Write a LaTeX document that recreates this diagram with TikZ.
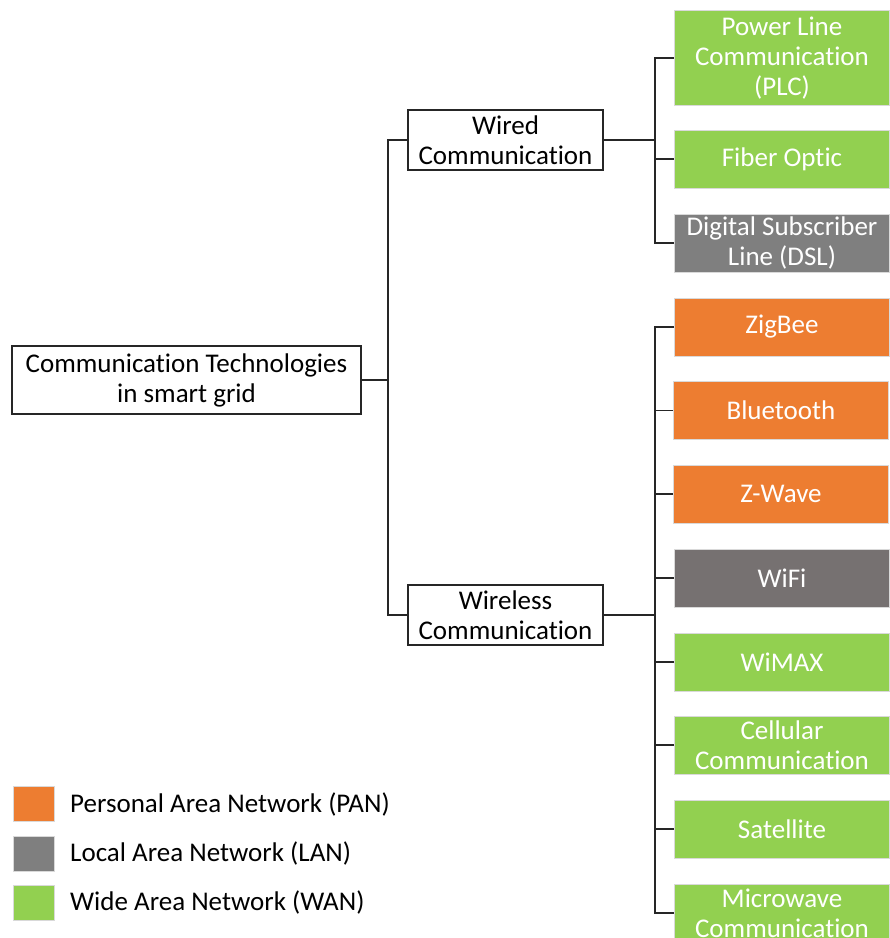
\documentclass[tikz,border=0pt]{standalone}
\usepackage{fontspec}
\setmainfont{Carlito}[Ligatures=NoCommon]
\definecolor{wan}{HTML}{92D050}
\definecolor{pan}{HTML}{ED7D31}
\definecolor{lan}{HTML}{7F7F7F}
\definecolor{wifi}{HTML}{767171}
\definecolor{linec}{HTML}{262626}
\tikzset{
  txt/.style={font=\fontsize{27}{30}\selectfont, align=center, inner sep=0pt},
  whitebox/.style={txt, draw=linec, line width=1.3pt, fill=white, text=black},
  leaf/.style={txt, draw=white!85!black, line width=0.8pt, text=white, minimum width=215pt, minimum height=58pt},
  conn/.style={draw=linec, line width=1.6pt},
  legsq/.style={draw=white!85!black, line width=0.8pt, minimum width=41pt, minimum height=35pt, inner sep=0pt},
  legtxt/.style={font=\fontsize{27}{30}\selectfont, anchor=west, inner sep=0pt, text=black}
}
\begin{document}
\begin{tikzpicture}[x=1pt,y=1pt]
\useasboundingbox (0,0) rectangle (890,-938);
\clip (0,0) rectangle (890,-938);
\fill[white] (0,0) rectangle (890,-938);
% main boxes
\node[whitebox, minimum width=349pt, minimum height=68pt] (root) at (186.5,-380) {Communication Technologies\\in smart grid};
\node[whitebox, minimum width=195pt, minimum height=60pt] (wired) at (505.5,-140) {Wired\\Communication};
\node[whitebox, minimum width=195pt, minimum height=60pt] (wireless) at (505.5,-615) {Wireless\\Communication};
% wired leaves
\node[leaf, fill=wan, minimum height=95pt] (plc) at (782,-58) {Power Line\\Communication\\(PLC)};
\node[leaf, fill=wan] (fiber) at (782,-159) {Fiber Optic};
\node[leaf, fill=lan] (dsl) at (782,-243) {Digital Subscriber\\Line (DSL)};
% wireless leaves
\node[leaf, fill=pan] (zigbee) at (782,-327) {ZigBee};
\node[leaf, fill=pan] (bt) at (781,-410.5) {Bluetooth};
\node[leaf, fill=pan] (zwave) at (781,-494) {Z-Wave};
\node[leaf, fill=wifi] (wifi) at (782,-578) {WiFi};
\node[leaf, fill=wan] (wimax) at (782,-662) {WiMAX};
\node[leaf, fill=wan] (cell) at (782,-745) {Cellular\\Communication};
\node[leaf, fill=wan] (sat) at (782,-829) {Satellite};
\node[leaf, fill=wan] (micro) at (782,-913) {Microwave\\Communication};
% connectors
\coordinate (t) at (388,-380);
\coordinate (w) at (655,-140);
\coordinate (v) at (655,-615);
\draw[conn] (root.east) -- (t);
\draw[conn] (wired.west) -| (t);
\draw[conn] (wireless.west) -| (t);
\draw[conn] (wired.east) -- (w);
\foreach \n in {plc,fiber,dsl} \draw[conn] (\n.west) -| (w);
\draw[conn] (wireless.east) -- (v);
\foreach \n in {zigbee,bt,zwave,wifi,wimax,cell,sat,micro} \draw[conn] (\n.west) -| (v);
% legend
\node[legsq, fill=pan] (lp) at (33.5,-804) {};
\node[legsq, fill=lan] (ll) at (33.5,-853.5) {};
\node[legsq, fill=wan] (lw) at (33.5,-902.5) {};
\node[legtxt] (tp) at (70,-804) {Personal Area Network (PAN)};
\node[legtxt] (tl) at (70,-853.5) {Local Area Network (LAN)};
\node[legtxt] (tw) at (70,-902.5) {Wide Area Network (WAN)};
\end{tikzpicture}
\end{document}
